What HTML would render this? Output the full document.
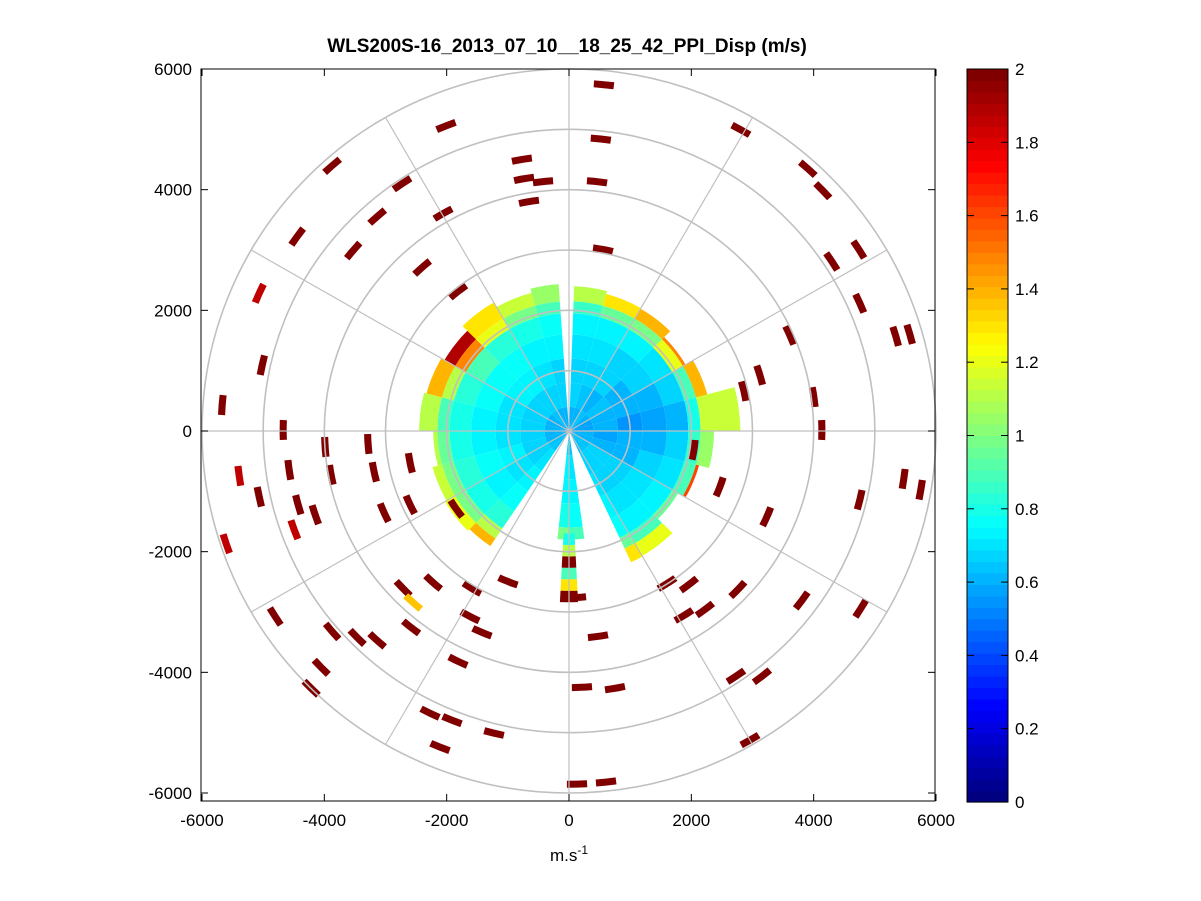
<!DOCTYPE html>
<html><head><meta charset="utf-8"><style>
body{margin:0;background:#fff;}
svg{display:block;font-family:"Liberation Sans",Arial,sans-serif;}
</style></head><body>
<svg id="chart" width="1201" height="901" viewBox="0 0 1201 901">
<rect width="1201" height="901" fill="#fff"/>
<text x="567" y="52" font-size="19" font-weight="bold" text-anchor="middle">WLS200S-16_2013_07_10__18_25_42_PPI_Disp (m/s)</text>
<g id="plot"></g>
<g id="cbar"></g>
<text x="569" y="861" font-size="17" text-anchor="middle">m.s<tspan dy="-7" font-size="12">-1</tspan></text>
</svg>
<script>
// ---- data ----
const xTicks = [-6000,-4000,-2000,0,2000,4000,6000];
const yTicks = [-6000,-4000,-2000,0,2000,4000,6000];
const cbTicks = [0,0.2,0.4,0.6,0.8,1,1.2,1.4,1.6,1.8,2];
const ringRadii = [1000,2000,3000,4000,5000,6000];
const spokeAngles = [0,30,60,90,120,150,180,210,240,270,300,330];
// inner disk: 24 sectors of 15 deg (azimuth clockwise from north)
const sectorExtent = [2400,2350,2340,2200,2340,2800,2370,2200,2060,2390,2400,1800,1800,1900,2300,2340,2310,2220,2450,2410,2350,2460,2370,2440];
const bandEdges = [0,400,800,1200,1600,1950,2150];
const sectorValues = [
[0.62,0.66,0.68,0.70,0.72,0.85,1.10],[0.60,0.65,0.66,0.70,0.74,0.95,1.30],[0.63,0.60,0.66,0.68,0.72,1.00,1.40],
[0.61,0.64,0.62,0.66,0.70,1.20,1.50],[0.58,0.62,0.60,0.62,0.66,0.90,1.40],[0.57,0.60,0.55,0.58,0.62,0.80,1.15],
[0.60,0.58,0.60,0.62,0.66,0.85,1.05],[0.62,0.60,0.62,0.66,0.70,0.90,1.60],[0.64,0.66,0.66,0.70,0.74,0.95,1.90],
[0.63,0.67,0.68,0.70,0.74,0.90,1.20],[0.62,0.68,0.70,0.72,0.76,0.95,1.30],[0.64,0.70,0.72,0.78,0.90,1.40,2.00],
[0.66,0.72,0.74,0.80,1.00,1.50,2.00],[0.65,0.70,0.72,0.78,0.92,1.30,2.00],[0.64,0.70,0.72,0.76,0.82,1.10,1.40],
[0.63,0.68,0.70,0.74,0.80,1.00,1.20],[0.62,0.68,0.72,0.76,0.82,1.00,1.15],[0.62,0.66,0.70,0.74,0.80,0.95,1.10],
[0.60,0.66,0.70,0.74,0.80,0.90,1.10],[0.61,0.66,0.70,0.76,0.84,1.10,1.40],[0.62,0.68,0.72,0.78,0.90,1.50,1.90],
[0.63,0.68,0.72,0.76,0.84,1.20,1.30],[0.62,0.66,0.70,0.74,0.80,1.00,1.15],[0.62,0.66,0.68,0.72,0.76,0.90,1.05]];
// blank wedges [azStart, azEnd]
const gapStart = [-4,155,186];
const gapEnd = [2,172,214];
// south spike
const spikeAz = [177,183];
const spikeValues = [0.8,1.1,2.0,0.9,1.3,2.0];
// scattered range-gate marks (metres)
const markX = [570,520,-770,-735,-425,-654,458,-2010,-2059,-3873,-2729,-3137,-3529,-4444,-2402,-1814,-5016,-5670,-4673,-3987,-3285,-2598,-4575,-3889,-5065,-4428,-4150,-3186,-3023,-2598,-1846,-2712,-2222,-1585,-997,-1618,-1422,-2582,-3464,-3873,-3137,-4804,-4216,-4052,-1814,-2271,-1912,-2108,-1226,212,752,474,1879,2222,1601,1961,2761,3235,2467,2042,4134,5474,5752,4755,4771,3807,2729,3154,2958,131,605,2810,3905,4150,4297,4739,4755,5343,5572,3611,4003,3121,2860,556,114,-5065,-5392,-5605,-4493,-2549];
const markY = [5740,4840,4500,4182,4133,3802,4133,5058,3604,4397,4099,3554,2992,3223,2711,2314,1091,430,17,-264,-215,-529,-645,-727,-1091,-1223,-1388,-678,-1355,-1223,-1289,-2612,-2513,-2612,-2496,-3075,-3339,-3256,-3422,-3323,-3471,-3075,-4265,-3918,-3818,-4678,-4794,-5240,-5009,-4248,-4265,-3405,-3058,-2959,-2529,-2546,-2628,-1422,-926,-314,17,-793,-975,-1141,-2942,-2810,-4066,-4066,-5124,-5852,-5819,4992,4347,3984,2810,3009,2116,1570,1603,1587,562,926,661,3009,-2760,2281,-744,-1868,-1636,-2843];
const markV = [2,2,2,2,2,2,2,2,2,2,2,2,2,2,2,2,2,2,2,2,2,2,2,2,2,2,2,2,2,2,2,2,2,2,2,2,2,2,2,2,2,2,2,2,2,2,2,2,2,2,2,2,2,2,2,2,2,2,2,2,2,2,2,2,2,2,2,2,2,2,2,2,2,2,2,2,2,2,2,2,2,2,2,2,2,1.85,1.85,1.85,1.85,1.35];

// ---- axes ----
const L=201,R=935,T=69,B=801,X0=569,Y0=431;
const SX=(R-L)/12000, SY=(Y0-T)/6000;
const X=m=>X0+m*SX, Y=m=>Y0-m*SY;
const NS='http://www.w3.org/2000/svg';
function jet(v){
  let t=Math.max(0,Math.min(1,v/2)); t=Math.floor(t*63.999)/63;
  const f=x=>Math.max(0,Math.min(1,x));
  const r=f(1.5-Math.abs(4*t-3)), g=f(1.5-Math.abs(4*t-2)), b=f(1.5-Math.abs(4*t-1));
  return `rgb(${Math.round(r*255)},${Math.round(g*255)},${Math.round(b*255)})`;
}
function P(r,az){const a=az*Math.PI/180;return [X(r*Math.sin(a)),Y(r*Math.cos(a))];}
function wedge(r0,r1,a0,a1){
  const n=Math.max(2,Math.ceil((a1-a0)/2));let pts=[];
  for(let i=0;i<=n;i++)pts.push(P(r1,a0+(a1-a0)*i/n));
  for(let i=n;i>=0;i--)pts.push(P(r0,a0+(a1-a0)*i/n));
  return 'M'+pts.map(p=>p[0].toFixed(1)+','+p[1].toFixed(1)).join('L')+'Z';
}
function mk(tag,attrs,parent){const e=document.createElementNS(NS,tag);for(const k in attrs)e.setAttribute(k,attrs[k]);parent.appendChild(e);return e;}
const plot=document.getElementById('plot');
mk('rect',{x:L,y:T,width:R-L,height:B-T,fill:'#fff'},plot);
// disk
sectorExtent.forEach((ext,s)=>{
  bandEdges.forEach((r0,b)=>{
    const r1=b<bandEdges.length-1?Math.min(bandEdges[b+1],ext):ext;
    if(r1<=r0)return;
    const p=mk('path',{d:wedge(r0,r1,s*15,s*15+15),fill:jet(sectorValues[s][b])},plot);
    
    
  });
});
gapStart.forEach((a0,i)=>{
  const p=mk('path',{d:wedge(0,3000,a0,gapEnd[i]),fill:'#fff'},plot);
  
  
});
spikeValues.forEach((v,i)=>{
  const p=mk('path',{d:wedge(1700+i*190,1890+i*190,spikeAz[0],spikeAz[1]),fill:jet(v)},plot);
  
  
});
markX.forEach((mx,i)=>{
  const my=markY[i];const r=Math.hypot(mx,my);let az=Math.atan2(mx,my)*180/Math.PI;
  const half=165/r*180/Math.PI;
  const p=mk('path',{d:wedge(r-58,r+58,az-half,az+half),fill:jet(markV[i])},plot);
  
  
});
// grid
ringRadii.forEach(r=>{
  const e=mk('ellipse',{cx:X0,cy:Y0,rx:r*SX,ry:r*SY,fill:'none',stroke:'#c0c0c0','stroke-width':1.6},plot);
  
  
});
spokeAngles.forEach(a=>{
  const p=P(6000,a);
  const l=mk('line',{x1:X0,y1:Y0,x2:p[0],y2:p[1],stroke:'#c0c0c0','stroke-width':1.2},plot);
  
  
});
mk('rect',{x:L,y:T,width:R-L,height:B-T,fill:'none',stroke:'#000','stroke-width':1},plot);
xTicks.forEach(v=>{
  const x=X(v);
  mk('line',{x1:x,y1:B,x2:x,y2:B-7,stroke:'#000'},plot);
  mk('line',{x1:x,y1:T,x2:x,y2:T+7,stroke:'#000'},plot);
  const t=mk('text',{x:x,y:B+25,'font-size':17,'text-anchor':'middle'},plot);t.textContent=v;
  
  
});
yTicks.forEach(v=>{
  const y=Y(v);
  mk('line',{x1:L,y1:y,x2:L+7,y2:y,stroke:'#000'},plot);
  mk('line',{x1:R,y1:y,x2:R-7,y2:y,stroke:'#000'},plot);
  const t=mk('text',{x:L-9,y:y+6,'font-size':17,'text-anchor':'end'},plot);t.textContent=v;
  
  
});
// colorbar
const cb=document.getElementById('cbar');const CL=967,CR=1008,CT=69,CB=802;
for(let i=0;i<64;i++){
  const y0=CB-(i+1)*(CB-CT)/64;
  mk('rect',{x:CL,y:y0,width:CR-CL,height:(CB-CT)/64+0.6,fill:jet((i+0.5)/64*2)},cb);
}
mk('rect',{x:CL,y:CT,width:CR-CL,height:CB-CT,fill:'none',stroke:'#000'},cb);
cbTicks.forEach(v=>{
  const y=CB-v/2*(CB-CT);
  mk('line',{x1:CL,y1:y,x2:CL+7,y2:y,stroke:'#000'},cb);
  mk('line',{x1:CR,y1:y,x2:CR-7,y2:y,stroke:'#000'},cb);
  const t=mk('text',{x:CR+7,y:y+6,'font-size':17},cb);t.textContent=+v.toFixed(1);
  
  
});
</script>
</body></html>
